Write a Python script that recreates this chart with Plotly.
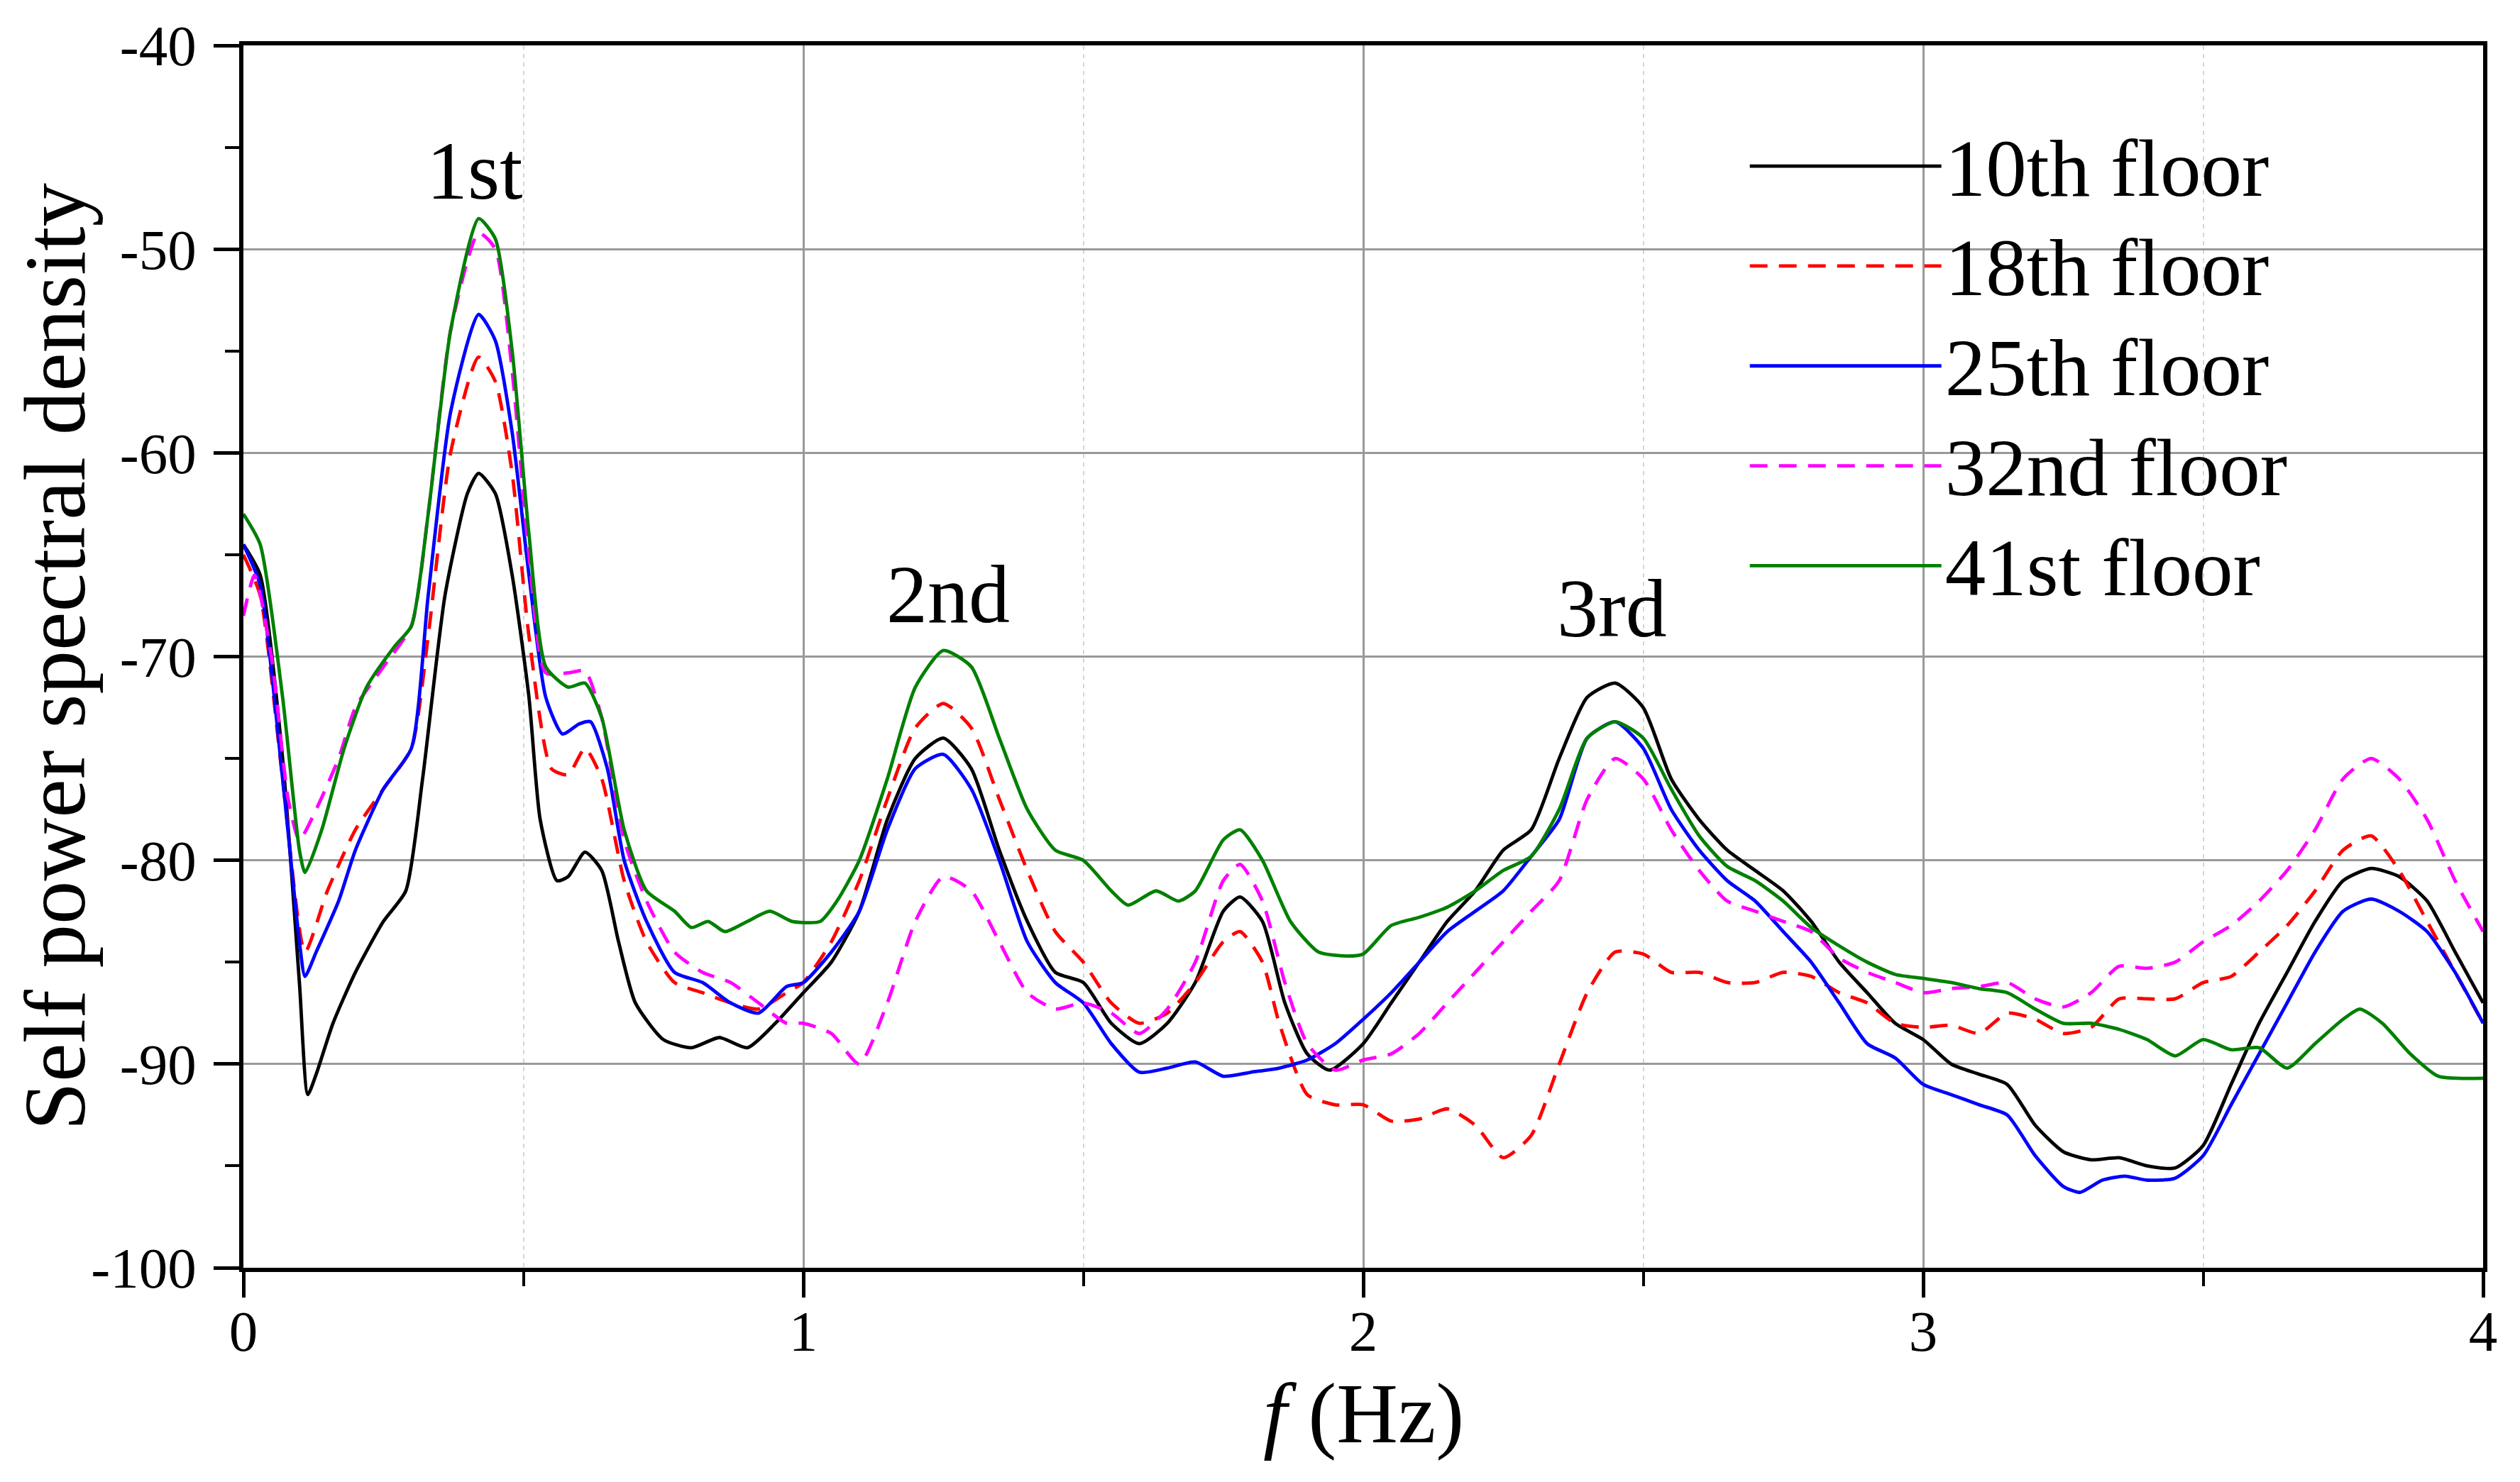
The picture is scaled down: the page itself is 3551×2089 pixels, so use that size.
import plotly.graph_objects as go

# ---- data ----
f10 = [0, 0.03, 0.07, 0.1, 0.115, 0.13, 0.16, 0.2, 0.25, 0.29, 0.32, 0.36, 0.4, 0.42, 0.45, 0.48, 0.51, 0.53, 0.56, 0.58,
       0.61, 0.64, 0.67, 0.7, 0.75, 0.8, 0.85, 0.9, 0.95, 1.0, 1.05, 1.1, 1.15, 1.2, 1.25, 1.3, 1.35, 1.4, 1.45, 1.5,
       1.55, 1.6, 1.65, 1.7, 1.75, 1.78, 1.82, 1.86, 1.9, 1.94, 2.0, 2.05, 2.1, 2.15, 2.2, 2.25, 2.3, 2.35, 2.4, 2.45,
       2.5, 2.55, 2.6, 2.65, 2.7, 2.75, 2.8, 2.85, 2.9, 2.95, 3.0, 3.05, 3.1, 3.15, 3.2, 3.25, 3.3, 3.35, 3.4, 3.45,
       3.5, 3.55, 3.6, 3.65, 3.7, 3.75, 3.8, 3.85, 3.9, 3.95, 4.0]
p10 = [-64.5, -66, -75, -86, -91.5, -90.5, -88, -85.5, -83, -81.5, -76, -67, -62, -61, -62, -66, -72, -78, -81, -80.8,
       -79.6, -80.5, -84, -87, -88.8, -89.2, -88.7, -89.2, -88, -86.5, -85, -82.5, -78, -75, -74, -75.5, -79.5, -83, -85.5, -86,
       -88, -89, -88, -86, -82.5, -81.8, -83, -87, -89.5, -90.3, -89, -87, -85, -83, -81.5, -79.5, -78.5, -75, -72, -71.3,
       -72.5, -76, -78, -79.5, -80.5, -81.5, -83, -85, -86.5, -88, -88.8, -90, -90.5, -91, -93, -94.3, -94.7, -94.6, -95, -95.1,
       -94, -91, -88, -85.5, -83, -81, -80.4, -80.8, -82, -84.5, -87]

f18 = [0, 0.03, 0.07, 0.11, 0.15, 0.2, 0.25, 0.3, 0.33, 0.37, 0.42, 0.45, 0.48, 0.51, 0.55, 0.58, 0.61, 0.64, 0.68, 0.72,
       0.77, 0.82, 0.87, 0.92, 0.97, 1.0, 1.05, 1.1, 1.15, 1.2, 1.25, 1.3, 1.35, 1.4, 1.45, 1.5, 1.55, 1.6, 1.65, 1.7,
       1.75, 1.78, 1.82, 1.85, 1.9, 1.95, 2.0, 2.05, 2.1, 2.15, 2.2, 2.25, 2.3, 2.35, 2.4, 2.45, 2.5, 2.55, 2.6, 2.65,
       2.7, 2.75, 2.8, 2.85, 2.9, 2.95, 3.0, 3.05, 3.1, 3.15, 3.2, 3.25, 3.3, 3.35, 3.4, 3.45, 3.5, 3.55, 3.6, 3.65,
       3.7, 3.75, 3.8, 3.85, 3.9, 3.95, 4.0]
p18 = [-65, -67, -76, -84.5, -81.5, -78.5, -76.5, -74.5, -69, -60, -55.3, -56.5, -61, -69, -75.5, -75.8, -74.5, -76, -81, -84,
       -86, -86.5, -87, -87.3, -86.5, -86, -84, -81, -77, -73.5, -72.3, -73.5, -77, -80.5, -83.5, -85, -87, -88, -87.5, -86,
       -84, -83.5, -85, -88, -91.5, -92, -92, -92.8, -92.7, -92.2, -93, -94.6, -93.5, -90, -86.5, -84.5, -84.6, -85.5, -85.5, -86,
       -86, -85.5, -85.7, -86.5, -87, -88, -88.2, -88.1, -88.5, -87.5, -87.8, -88.5, -88.2, -86.8, -86.8, -86.8, -86, -85.7, -84.5, -83.2,
       -81.5, -79.5, -78.8, -80.5, -83, -85.5, -88]

f25 = [0, 0.03, 0.07, 0.1, 0.11, 0.13, 0.17, 0.2, 0.25, 0.3, 0.33, 0.37, 0.42, 0.45, 0.48, 0.51, 0.54, 0.57, 0.6, 0.62,
       0.65, 0.68, 0.72, 0.77, 0.82, 0.87, 0.92, 0.97, 1.0, 1.05, 1.1, 1.15, 1.2, 1.25, 1.3, 1.35, 1.4, 1.45, 1.5, 1.55,
       1.6, 1.65, 1.7, 1.75, 1.8, 1.85, 1.9, 1.95, 2.0, 2.05, 2.1, 2.15, 2.2, 2.25, 2.3, 2.35, 2.4, 2.45, 2.5, 2.55,
       2.6, 2.65, 2.7, 2.75, 2.8, 2.85, 2.9, 2.95, 3.0, 3.05, 3.1, 3.15, 3.2, 3.25, 3.28, 3.32, 3.36, 3.4, 3.45, 3.5,
       3.55, 3.6, 3.65, 3.7, 3.75, 3.8, 3.85, 3.9, 3.95, 4.0]
p25 = [-64.5, -66.5, -76, -84, -85.7, -84.5, -82, -79.5, -76.5, -74.5, -67, -58, -53.2, -54.5, -59, -66, -72, -73.8, -73.3, -73.2,
       -75.5, -80, -83, -85.5, -86, -87, -87.5, -86.2, -86, -84.5, -82.5, -78.5, -75.5, -74.8, -76.5, -80, -84, -86, -87, -89,
       -90.4, -90.2, -89.9, -90.6, -90.4, -90.2, -89.8, -89, -87.8, -86.5, -85, -83.5, -82.5, -81.5, -79.8, -78, -74, -73.2, -74.5, -77.5,
       -79.5, -81, -82, -83.5, -85, -87, -89, -89.7, -91, -91.5, -92, -92.5, -94.5, -96, -96.3, -95.7, -95.5, -95.7, -95.6, -94.5,
       -92, -89.5, -87, -84.5, -82.5, -81.9, -82.5, -83.5, -85.5, -88]

f32 = [0, 0.02, 0.05, 0.08, 0.1, 0.13, 0.17, 0.2, 0.25, 0.3, 0.33, 0.37, 0.42, 0.45, 0.48, 0.51, 0.54, 0.58, 0.61, 0.64,
       0.68, 0.72, 0.77, 0.82, 0.87, 0.92, 0.97, 1.0, 1.05, 1.1, 1.15, 1.2, 1.25, 1.3, 1.35, 1.4, 1.45, 1.5, 1.55, 1.6,
       1.65, 1.7, 1.75, 1.78, 1.82, 1.86, 1.9, 1.95, 2.0, 2.05, 2.1, 2.15, 2.2, 2.25, 2.3, 2.35, 2.4, 2.45, 2.5, 2.55,
       2.6, 2.65, 2.7, 2.75, 2.8, 2.85, 2.9, 2.95, 3.0, 3.05, 3.1, 3.15, 3.2, 3.25, 3.3, 3.35, 3.4, 3.45, 3.5, 3.55,
       3.6, 3.65, 3.7, 3.75, 3.8, 3.85, 3.9, 3.95, 4.0]
p32 = [-68, -66, -70, -77, -79, -77.5, -75, -72.5, -70.5, -68.5, -63, -54, -49.2, -50, -56, -65, -70.8, -70.8, -70.7, -73,
       -79, -82, -84.5, -85.5, -86, -87, -88, -88, -88.5, -90, -87, -83, -80.8, -81.5, -84, -86.5, -87.3, -87, -87.5, -88.5,
       -87.3, -85, -81, -80.2, -82, -86, -89, -90.3, -89.8, -89.5, -88.5, -87, -85.5, -84, -82.5, -81, -77, -75, -76, -78.5,
       -80.5, -82, -82.5, -83, -83.5, -84.8, -85.5, -86, -86.5, -86.3, -86.2, -86, -86.8, -87.2, -86.5, -85.2, -85.3, -85, -84, -83.2,
       -82, -80.5, -78.5, -76, -75, -76, -78, -81, -83.5]

f41 = [0, 0.03, 0.07, 0.1, 0.11, 0.14, 0.18, 0.22, 0.27, 0.3, 0.33, 0.37, 0.42, 0.45, 0.48, 0.51, 0.54, 0.58, 0.61, 0.64,
       0.68, 0.72, 0.77, 0.8, 0.83, 0.86, 0.9, 0.94, 0.98, 1.03, 1.06, 1.1, 1.15, 1.2, 1.25, 1.3, 1.35, 1.4, 1.45, 1.5,
       1.55, 1.58, 1.63, 1.67, 1.7, 1.75, 1.78, 1.82, 1.87, 1.92, 1.97, 2.0, 2.05, 2.1, 2.15, 2.2, 2.25, 2.3, 2.35, 2.4,
       2.45, 2.5, 2.55, 2.6, 2.65, 2.7, 2.75, 2.8, 2.85, 2.9, 2.95, 3.0, 3.05, 3.1, 3.15, 3.2, 3.25, 3.3, 3.35, 3.4,
       3.45, 3.5, 3.55, 3.6, 3.65, 3.7, 3.75, 3.78, 3.82, 3.87, 3.92, 4.0]
p41 = [-63, -64.5, -72, -79.5, -80.6, -78.5, -74.5, -71.5, -69.5, -68.5, -63, -54, -48.5, -49.5, -55, -64, -70.5, -71.5, -71.3, -73,
       -78.5, -81.5, -82.5, -83.3, -83, -83.5, -83, -82.5, -83, -83, -82, -80, -76, -71.5, -69.7, -70.5, -74, -77.5, -79.5, -80,
       -81.5, -82.2, -81.5, -82, -81.5, -79, -78.5, -80, -83, -84.5, -84.7, -84.6, -83.2, -82.8, -82.3, -81.5, -80.5, -79.8, -77.5, -74,
       -73.2, -74, -76.5, -78.8, -80.3, -81, -82, -83.3, -84.2, -85, -85.6, -85.8, -86, -86.3, -86.5, -87.3, -88, -88, -88.3, -88.8,
       -89.6, -88.8, -89.3, -89.2, -90.2, -89, -87.8, -87.3, -88, -89.5, -90.6, -90.7]

series_names = ["10th floor", "18th floor", "25th floor", "32nd floor", "41st floor"]
series_x = [f10, f18, f25, f32, f41]
series_y = [p10, p18, p25, p32, p41]
series_colors = ["#000000", "#ff0000", "#0000ff", "#ff00ff", "#008000"]
series_dash = ["solid", "25px,16px", "solid", "25px,16px", "solid"]

peak_labels = ["1st", "2nd", "3rd"]
peak_x = [0.413, 1.258, 2.444]
peak_y = [-46.15, -66.95, -67.65]

x_ticks = [0, 1, 2, 3, 4]
y_ticks = [-100, -90, -80, -70, -60, -50, -40]

FONT = "Times New Roman, Liberation Serif, serif"

fig = go.Figure()
for name, xs, ys, col, dash in zip(series_names, series_x, series_y, series_colors, series_dash):
    fig.add_trace(go.Scatter(x=xs, y=ys, name='<span style="font-size:115px">' + name + '</span>',
                             mode="lines",
                             line=dict(color=col, width=4.8, dash=dash, shape="spline", smoothing=0.6)))

for t, px, py in zip(peak_labels, peak_x, peak_y):
    fig.add_annotation(x=px, y=py, text=t, showarrow=False,
                       font=dict(family=FONT, size=116, color="black"))

# axis titles
fig.add_annotation(x=0.5, y=0, xref="paper", yref="paper", text="<i>f</i> (Hz)", showarrow=False,
                   xanchor="center", yanchor="middle", yshift=-205,
                   font=dict(family=FONT, size=120, color="black"))
fig.add_annotation(x=0, y=0.5, xref="paper", yref="paper", text="Self power spectral density", showarrow=False,
                   textangle=-90, xanchor="center", yanchor="middle", xshift=-266,
                   font=dict(family=FONT, size=123, color="black"))

fig.update_layout(
    width=3535, height=2073,
    margin=dict(l=335, r=44, t=45, b=294),
    paper_bgcolor="white", plot_bgcolor="white",
    font=dict(family=FONT, color="black"),
    showlegend=True,
    legend=dict(x=0.671, y=0.945, xanchor="left", yanchor="top",
                font=dict(family=FONT, size=106, color="black"),
                bgcolor="rgba(0,0,0,0)", borderwidth=0,
                itemwidth=270, tracegroupgap=0),
)

fig.update_xaxes(
    range=[0, 4], tickvals=x_ticks, ticktext=[str(v) for v in x_ticks],
    showline=True, linecolor="black", linewidth=6, mirror=True,
    ticks="outside", ticklen=36, tickwidth=5, tickcolor="black", ticklabelstandoff=-22,
    tickfont=dict(family=FONT, size=81, color="black"),
    showgrid=True, gridcolor="#999999", gridwidth=3, zeroline=False,
    minor=dict(dtick=0.5, ticks="outside", ticklen=20, tickwidth=4, tickcolor="black",
               showgrid=True, gridcolor="#d5d5d5", gridwidth=2, griddash="6px,6px"),
)
fig.update_yaxes(
    range=[-100, -40], tickvals=y_ticks, ticktext=[str(v) for v in y_ticks],
    showline=True, linecolor="black", linewidth=6, mirror=True,
    ticks="outside", ticklen=36, tickwidth=5, tickcolor="black", ticklabelstandoff=8,
    tickfont=dict(family=FONT, size=81, color="black"),
    showgrid=True, gridcolor="#999999", gridwidth=3, zeroline=False,
    minor=dict(dtick=5, ticks="outside", ticklen=20, tickwidth=4, tickcolor="black", showgrid=False),
)

fig.write_html("out.html")
